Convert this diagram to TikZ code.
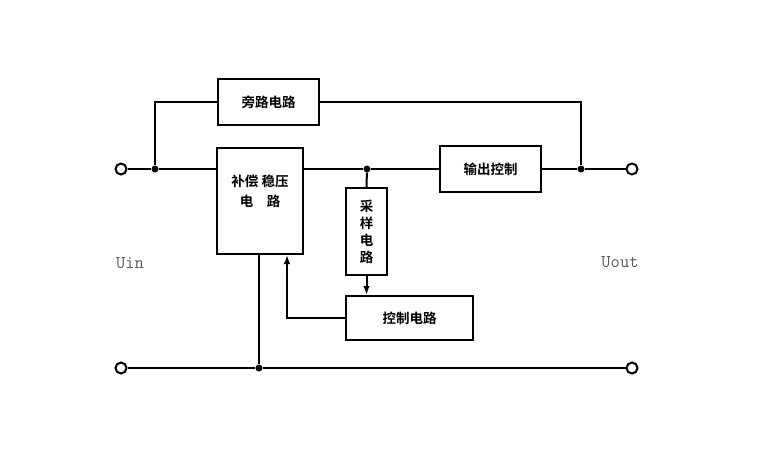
\documentclass[tikz,border=0pt]{standalone}
\usepackage{fontspec}
\newfontfamily\cjk[BoldFont={Noto Sans CJK SC Bold}]{Noto Sans CJK SC}
\usetikzlibrary{arrows.meta, positioning}
\tikzset{
  blk/.style={draw, line width=2pt, font=\cjk\bfseries\fontsize{13.5}{17}\selectfont, align=center, inner sep=0pt},
  wire/.style={line width=2pt},
  term/.style={circle, draw, line width=2pt, fill=white, minimum size=11pt, inner sep=0pt},
  dot/.style={circle, fill=black, minimum size=7pt, inner sep=0pt},
  volt/.style={font=\ttfamily\fontsize{18}{18}\selectfont, text=black!65}
}

\begin{document}
\begin{tikzpicture}[x=1pt, y=-1pt, >={Latex[length=9pt,width=6.5pt]}]
\useasboundingbox (0,0) rectangle (759,461);
% boxes
\node[blk, minimum width=101, minimum height=46] (bypass) at (268.5,102) {旁路电路};
\node[blk, minimum width=86, minimum height=106] (comp) at (260,201) {};
\node[font=\cjk\bfseries\fontsize{13.5}{20}\selectfont, align=center, below=24pt of comp.north] (comptext) {补偿 稳压\\电\quad 路};
\node[blk, minimum width=41, minimum height=87] (samp) at (366.5,231.5) {采\\样\\电\\路};
\node[blk, minimum width=127, minimum height=44] (ctl) at (409.5,318) {控制电路};
\node[blk, minimum width=101, minimum height=46] (outctl) at (490.5,169) {输出控制};
% terminals and junctions
\node[term] (tin) at (121,169) {};
\node[term] (tout) at (632,169) {};
\node[term] (bin) at (121,368) {};
\node[term] (bout) at (632,368) {};
\node[dot] (jin) at (155,169) {};
\node[dot] (jsamp) at (367,169) {};
\node[dot] (jout) at (581,169) {};
\node[dot] (jbot) at (259,368) {};
\node[volt] (uin) at (130,263) {Uin};
\node[volt] (uout) at (620,262) {Uout};
% wires
\draw[wire] (tin) -- (jin) -- (comp.west |- tin);
\draw[wire] (comp.east |- tin) -- (jsamp) -- (outctl.west);
\draw[wire] (outctl.east) -- (jout) -- (tout);
\draw[wire] (jin) |- (bypass.west);
\draw[wire] (bypass.east) -| (jout);
\draw[wire] (jsamp) -- (samp.north);
\draw[wire, ->] (samp.south) -- (samp.south |- ctl.north);
\draw[wire, ->] (ctl.west) -| ([xshift=27pt]comp.south);
\draw[wire] ([xshift=-1pt]comp.south) -- (jbot);
\draw[wire] (bin) -- (jbot) -- (bout);
\end{tikzpicture}
\end{document}
